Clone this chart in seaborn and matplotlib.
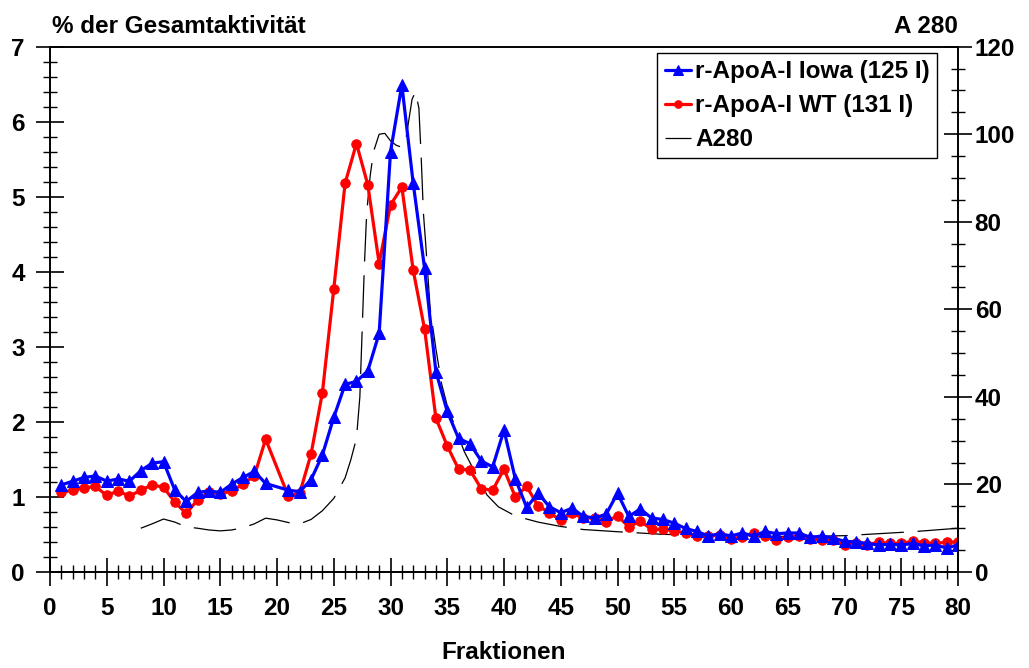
import matplotlib
matplotlib.use("Agg")
import matplotlib.pyplot as plt
from matplotlib.ticker import MultipleLocator
import seaborn as sns

# Fraction numbers (fraction 20 is not measured)
fractions = list(range(1, 20)) + list(range(21, 81))

# % of total activity, r-ApoA-I Iowa (125 I)
iowa = [1.16, 1.21, 1.26, 1.28, 1.21, 1.24, 1.21, 1.35, 1.45, 1.47,
        1.09, 0.94, 1.06, 1.08, 1.06, 1.17, 1.26, 1.34, 1.18,
        1.09, 1.07, 1.23, 1.56, 2.06, 2.50, 2.54, 2.68, 3.18, 5.60,
        6.49, 5.18, 4.05, 2.67, 2.14, 1.78, 1.71, 1.48, 1.40, 1.89,
        1.24, 0.86, 1.05, 0.87, 0.79, 0.85, 0.74, 0.72, 0.77, 1.05,
        0.74, 0.84, 0.72, 0.70, 0.65, 0.58, 0.54, 0.48, 0.51, 0.48,
        0.52, 0.48, 0.54, 0.51, 0.52, 0.52, 0.46, 0.48, 0.45, 0.41,
        0.40, 0.38, 0.36, 0.37, 0.36, 0.38, 0.35, 0.36, 0.32, 0.36]

# % of total activity, r-ApoA-I WT (131 I)
wt = [1.06, 1.09, 1.12, 1.14, 1.02, 1.08, 1.01, 1.09, 1.16, 1.13,
      0.93, 0.78, 0.96, 1.07, 1.04, 1.08, 1.17, 1.28, 1.77,
      1.01, 1.05, 1.57, 2.39, 3.77, 5.18, 5.71, 5.16, 4.11, 4.89,
      5.13, 4.02, 3.24, 2.05, 1.68, 1.37, 1.36, 1.11, 1.09, 1.37,
      1.00, 1.14, 0.88, 0.79, 0.69, 0.78, 0.72, 0.72, 0.67, 0.75,
      0.60, 0.68, 0.57, 0.57, 0.55, 0.52, 0.48, 0.48, 0.49, 0.44,
      0.47, 0.52, 0.48, 0.43, 0.47, 0.48, 0.44, 0.43, 0.42, 0.36,
      0.39, 0.36, 0.40, 0.38, 0.38, 0.41, 0.39, 0.38, 0.40, 0.40]

# A280 trace (right axis)
a280_x = [8, 9, 10, 11, 12, 13, 14, 15, 16, 17, 18, 19, 20, 21, 22, 23, 24,
          25, 26, 26.5, 27, 27.3, 27.5, 27.7, 27.9, 28.2, 28.5, 29, 29.5,
          30, 30.5, 31, 31.3, 31.6, 31.9, 32.2, 32.5, 32.7, 32.9, 33.1,
          33.5, 34, 34.5, 35, 35.5, 36.5, 37.5, 38.5, 39.5, 41, 43, 45, 47,
          50, 54, 58, 62, 66, 70, 72, 76, 80]
a280_y = [10.0, 11.0, 12.1, 11.4, 10.3, 10.0, 9.6, 9.4, 9.6, 10.1, 11.0,
          12.3, 11.9, 11.3, 11.0, 12.0, 14.0, 16.8, 21.5, 25.6, 30.5, 40,
          55, 70, 82, 90.3, 96, 100, 100.2, 98.5, 97.5, 97.0, 98, 103, 108,
          109.7, 106, 95, 82, 75, 60, 51, 43, 38, 34.5, 27.5, 22.5, 17.6,
          14.9, 12.8, 11.4, 10.4, 9.7, 9.2, 8.6, 8.4, 8.2, 8.1, 8.3, 8.6,
          9.2, 10.0]

FS = 17.5

sns.set_theme(style="ticks")
plt.rcParams['font.family'] = ['Liberation Sans', 'DejaVu Sans']
plt.rcParams['font.weight'] = 'bold'
plt.rcParams['axes.edgecolor'] = 'black'
plt.rcParams['axes.linewidth'] = 1.2
plt.rcParams['xtick.color'] = 'black'
plt.rcParams['ytick.color'] = 'black'
plt.rcParams['text.color'] = 'black'
plt.rcParams['axes.labelcolor'] = 'black'

fig = plt.figure(figsize=(10.29, 6.68), dpi=100)
ax = fig.add_axes([50 / 1029, 96 / 668, 908 / 1029, 525.3 / 668])
ax2 = ax.twinx()
ax.set_zorder(ax2.get_zorder() + 1)
ax.patch.set_visible(False)

# A280 dashed trace on the right axis
sns.lineplot(x=a280_x, y=a280_y, ax=ax2, color='black', linewidth=0.9,
             label='A280', legend=False)
ax2.lines[0].set_dashes([34, 11])

sns.lineplot(x=fractions, y=wt, ax=ax, color='red', marker='o',
             markersize=6.8, markeredgecolor='red', linewidth=2.3,
             label='r-ApoA-I WT (131 I)', legend=False)
sns.lineplot(x=fractions, y=iowa, ax=ax, color='blue', marker='^',
             markersize=9, markeredgecolor='blue', linewidth=2.3,
             label='r-ApoA-I Iowa (125 I)', legend=False)

ax.set_xlim(0, 80)
ax.set_ylim(0, 7)
ax2.set_ylim(0, 120)

ax.xaxis.set_major_locator(MultipleLocator(5))
ax.xaxis.set_minor_locator(MultipleLocator(1))
ax.yaxis.set_major_locator(MultipleLocator(1))
ax.yaxis.set_minor_locator(MultipleLocator(0.2))
ax2.yaxis.set_major_locator(MultipleLocator(20))
ax2.yaxis.set_minor_locator(MultipleLocator(5))

ax.tick_params(which='major', direction='inout', length=20, width=1.2,
               pad=8, labelsize=FS)
ax.tick_params(which='minor', direction='inout', length=10, width=1.0)
ax2.tick_params(which='major', direction='inout', length=20, width=1.2,
                pad=2, labelsize=FS)
ax2.tick_params(which='minor', direction='inout', length=10, width=1.0)

ax.set_xlabel('Fraktionen', fontsize=FS, fontweight='bold', labelpad=15)
ax.set_ylabel('')
ax2.set_ylabel('')

fig.text(52 / 1029, 1 - 33 / 668, '% der Gesamtaktivität', ha='left',
         va='baseline', fontsize=FS, fontweight='bold')
fig.text(958 / 1029, 1 - 33 / 668, 'A 280', ha='right',
         va='baseline', fontsize=FS, fontweight='bold')

h1, l1 = ax.get_legend_handles_labels()
h2, l2 = ax2.get_legend_handles_labels()
handles = [h1[1], h1[0]] + h2
labels = [l1[1], l1[0]] + l2
leg = ax.legend(handles, labels, loc='upper right',
                bbox_to_anchor=(0.977, 0.988), frameon=True, fancybox=False,
                edgecolor='black', framealpha=1,
                prop={'weight': 'bold', 'size': FS}, handlelength=1.1,
                handletextpad=0.15, labelspacing=0.45, borderpad=0.3,
                borderaxespad=0, markerscale=0.8)
leg.get_frame().set_linewidth(1.0)

fig.savefig('out.png', dpi=100)
